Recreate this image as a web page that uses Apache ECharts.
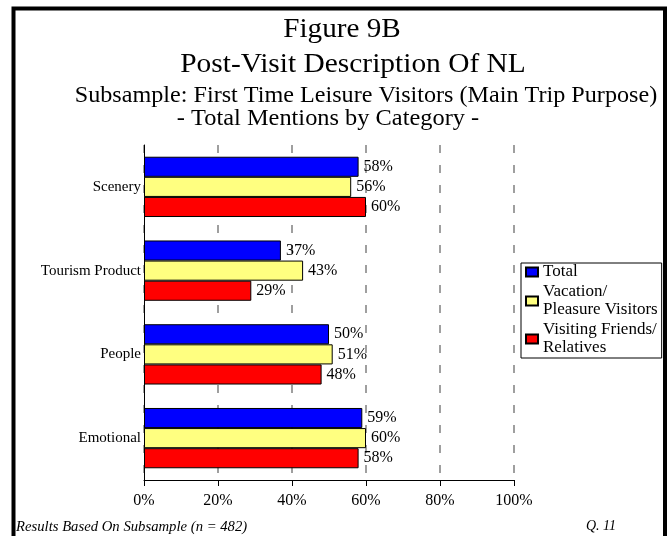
<!DOCTYPE html>
<html>
<head>
<meta charset="utf-8">
<script src="https://cdn.jsdelivr.net/npm/echarts@6/dist/echarts.min.js"></script>
<style>
html,body{margin:0;padding:0;background:#fff;}
#chart{width:668px;height:536px;}
</style>
</head>
<body>
<div id="chart"></div>
<script>
var categories = ['Scenery', 'Tourism Product', 'People', 'Emotional'];
var seriesNames = ['Total', 'Vacation/\nPleasure Visitors', 'Visiting Friends/\nRelatives'];
var totalValues = [58, 37, 50, 59];
var vacationValues = [56, 43, 51, 60];
var vfrValues = [60, 29, 48, 58];
var seriesColors = ['#0000FF', '#FFFF80', '#FF0000'];
var titleLines = ['Figure 9B', 'Post-Visit Description Of NL', 'Subsample: First Time Leisure Visitors (Main Trip Purpose)', '- Total Mentions by Category -'];
var footLeft = 'Results Based On Subsample (n = 482)';
var footRight = 'Q. 11';

var font = '"Liberation Serif", "Times New Roman", serif';
var chart = echarts.init(document.getElementById('chart'), null, {renderer: 'canvas'});

function mkSeries(name, data, color) {
  return {
    name: name,
    type: 'bar',
    data: data,
    barGap: '0%',
    barCategoryGap: '28%',
    itemStyle: {color: color, borderColor: '#000', borderWidth: 1},
    label: {
      show: true, position: 'right', distance: 5,
      formatter: '{c}%', color: '#000',
      fontFamily: font, fontSize: 16
    },
    emphasis: {disabled: true},
    animation: false
  };
}

var option = {
  backgroundColor: '#fff',
  animation: false,
  grid: {left: 144, right: 154, top: 145, bottom: 56},
  legend: {
    orient: 'vertical',
    left: 521, top: 263,
    padding: [0, 4, 1, 4],
    itemGap: 2,
    itemWidth: 12, itemHeight: 9,
    borderColor: '#000', borderWidth: 1,
    backgroundColor: '#fff',
    icon: 'rect',
    selectedMode: false,
    textStyle: {fontFamily: font, fontSize: 17, lineHeight: 18, color: '#000'},
    data: seriesNames
  },
  xAxis: {
    type: 'value', min: 0, max: 100, interval: 20,
    axisLine: {show: true, lineStyle: {color: '#000', width: 1}},
    axisTick: {show: true, length: 6, lineStyle: {color: '#000'}},
    axisLabel: {formatter: '{value}%', color: '#000', fontFamily: font, fontSize: 16, margin: 13},
    splitLine: {show: true, lineStyle: {color: '#808080', width: 1.5, type: [8, 12]}}
  },
  yAxis: {
    type: 'category', data: categories, inverse: true,
    axisLine: {show: true, lineStyle: {color: '#000', width: 1}},
    axisTick: {show: false},
    axisLabel: {color: '#000', fontFamily: font, fontSize: 15, margin: 3}
  },
  series: [
    mkSeries(seriesNames[0], totalValues, seriesColors[0]),
    mkSeries(seriesNames[1], vacationValues, seriesColors[1]),
    mkSeries(seriesNames[2], vfrValues, seriesColors[2])
  ],
  graphic: [
    {type: 'rect', silent: true, z: 100,
     shape: {x: 13.5, y: 8.5, width: 651.5, height: 540},
     style: {fill: 'none', stroke: '#000', lineWidth: 4}},
    {type: 'text', x: 342, y: 30, scaleX: 1.08, silent: true,
     style: {text: titleLines[0], fontFamily: font, fontSize: 27, fill: '#000', align: 'center', verticalAlign: 'middle'}},
    {type: 'text', x: 353, y: 65, scaleX: 1.09, silent: true,
     style: {text: titleLines[1], fontFamily: font, fontSize: 27, fill: '#000', align: 'center', verticalAlign: 'middle'}},
    {type: 'text', x: 366, y: 96, scaleX: 1.05, silent: true,
     style: {text: titleLines[2], fontFamily: font, fontSize: 23, fill: '#000', align: 'center', verticalAlign: 'middle'}},
    {type: 'text', x: 328, y: 119, scaleX: 1.06, silent: true,
     style: {text: titleLines[3], fontFamily: font, fontSize: 23, fill: '#000', align: 'center', verticalAlign: 'middle'}},
    {type: 'text', x: 16, y: 527, scaleX: 1.05, silent: true,
     style: {text: footLeft, fontFamily: font, fontSize: 14, fontStyle: 'italic', fill: '#000', align: 'left', verticalAlign: 'middle'}},
    {type: 'text', x: 586, y: 526, silent: true,
     style: {text: footRight, fontFamily: font, fontSize: 14, fontStyle: 'italic', fill: '#000', align: 'left', verticalAlign: 'middle'}}
  ]
};
chart.setOption(option);
</script>
</body>
</html>
